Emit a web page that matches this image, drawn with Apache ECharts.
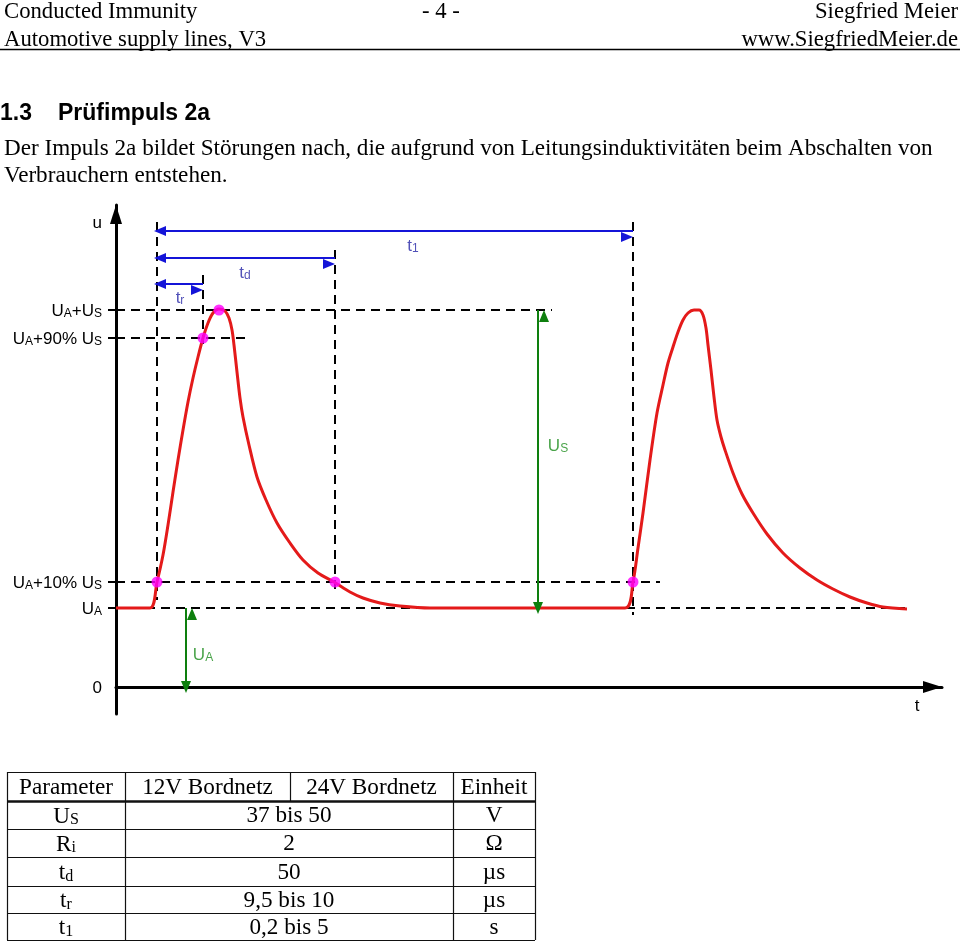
<!DOCTYPE html>
<html><head><meta charset="utf-8">
<script src="https://cdn.jsdelivr.net/npm/echarts@6/dist/echarts.min.js"></script>
<style>html,body{margin:0;padding:0;background:#fff}#c{width:960px;height:941px}</style>
</head><body><div id="c"></div>
<script>
// ---------- data (drawing units: t right of the u-axis, u above the 0 line) ----------
const pulseT = [0,34,41,47,52,57,62,67,72,77,82,87,92,97,103,109,113,116,118,121,
                124,127,133,141,150,161,174,187,202,218,234,247,264,284,314,
                509,517,522,527,534,541,547,552,557,562,567,572,578,583,587,590,592,595,598,601,
                605,609,617,626,637,651,667,684,701,717,734,751,767,791];
const pulseU = [79,79,105,132,162,195,227,257,285,309,330,349,364,374,378,376,369,357,342,315,
                289,270,242,210,187,164,144,127,114,105,95,89,84,81,79,
                79,105,139,174,227,274,302,324,340,355,367,374,377,377,372,359,342,317,290,267,
                250,237,214,193,174,153,134,119,107,98,90,84,80,78];

const levelNames = ['U_A', 'U_A+10% U_S', 'U_A+90% U_S', 'U_A+U_S'];
const levelU     = [79, 105, 349, 377];
const levelEndT  = [789, 544, 132, 436];

const guideT       = [41, 87, 219, 517];
const guideTopU    = [465, 412, 437, 465];
const guideBottomU = [87, 342, 97, 72];

const spanNames  = ['t_r', 't_d', 't_1'];
const spanStartT = [44, 44, 44];
const spanEndT   = [87, 219, 517];
const spanU      = [403, 429, 456];
const spanLabelT = [64, 129, 297];
const spanLabelU = [390, 415, 442];

const ampNames   = ['U_S', 'U_A'];
const ampT       = [422, 70];
const ampFromU   = [79, 0];
const ampToU     = [377, 79];
const ampLabelT  = [442, 87];
const ampLabelU  = [242, 33];

const markT = [41, 87, 103, 219, 517];
const markU = [105, 349, 377, 105, 105];

const uAxisName = 'u', uAxisNameAt = 465;
const tAxisName = 't', tAxisNameAt = 801;

const headerLeft  = ['Conducted Immunity', 'Automotive supply lines, V3'];
const headerRight = ['Siegfried Meier', 'www.SiegfriedMeier.de'];
const pageNo = '- 4 -';
const sectionNo = '1.3', sectionTitle = 'Prüfimpuls 2a';
const bodyLines = ['Der Impuls 2a bildet Störungen nach, die aufgrund von Leitungsinduktivitäten beim Abschalten von',
                   'Verbrauchern entstehen.'];

const tableHeader = ['Parameter', '12V Bordnetz', '24V Bordnetz', 'Einheit'];
const tableParams = ['U_S', 'R_i', 't_d', 't_r', 't_1'];
const tableValues = ['37 bis 50', '2', '50', '9,5 bis 10', '0,2 bis 5'];
const tableUnits  = ['V', 'Ω', 'µs', 'µs', 's'];

// ---------- helpers ----------
const SANS = 'Arial, "Liberation Sans", Helvetica, sans-serif';
const SERIF = '"Times New Roman", "Liberation Serif", serif';
function toRich(s) {
  let out = '', buf = '';
  for (let i = 0; i < s.length; i++) {
    if (s[i] === '_') {
      if (buf) out += '{m|' + buf + '}';
      buf = '';
      out += '{s|' + s[i + 1] + '}';
      i++;
    } else buf += s[i];
  }
  if (buf) out += '{m|' + buf + '}';
  return out;
}
function sansRich(color) {
  return {
    m: {fontFamily: SANS, fontSize: 17, color: color, lineHeight: 19, verticalAlign: 'bottom'},
    s: {fontFamily: SANS, fontSize: 12, color: color, lineHeight: 13, verticalAlign: 'bottom'}
  };
}
const serifRich = {
  m: {fontFamily: SERIF, fontSize: 23.2, fill: '#000', lineHeight: 24, verticalAlign: 'bottom'},
  s: {fontFamily: SERIF, fontSize: 16, fill: '#000', lineHeight: 14, verticalAlign: 'bottom'}
};
const yLabelValues = [0].concat(levelU, [uAxisNameAt]);
function yLabel(v) {
  if (v === 0) return '{m|0}';
  if (v === uAxisNameAt) return '{m|' + uAxisName + '}';
  const i = levelU.indexOf(v);
  return i >= 0 ? toRich(levelNames[i]) : '';
}

const BLUE = '#1414d8', BLUE_TXT = '#2626a6', GREEN = '#0e7f0e', GREEN_TXT = '#1c8c1c';
const DASH = {color: '#000', width: 2, type: [9, 6]};

const series = [];
levelU.forEach((u, i) => series.push({
  type: 'line', silent: true, symbol: 'none', z: 1,
  data: [[0, u], [levelEndT[i], u]], lineStyle: DASH
}));
guideT.forEach((t, i) => series.push({
  type: 'line', silent: true, symbol: 'none', z: 1,
  data: [[t, guideTopU[i]], [t, guideBottomU[i]]], lineStyle: DASH
}));

const arrowLines = [];
spanNames.forEach((n, i) => arrowLines.push([
  {coord: [spanStartT[i], spanU[i]], lineStyle: {color: BLUE, width: 2, type: 'solid'}, itemStyle: {color: BLUE}},
  {coord: [spanEndT[i], spanU[i]]}
]));
ampNames.forEach((n, i) => arrowLines.push([
  {coord: [ampT[i], ampFromU[i]], lineStyle: {color: GREEN, width: 2, type: 'solid'}, itemStyle: {color: GREEN}},
  {coord: [ampT[i], ampToU[i]]}
]));

series.push({
  type: 'line', name: 'pulse', silent: true, symbol: 'none', z: 3, smooth: 0.3,
  data: pulseT.map((t, i) => [t, pulseU[i]]),
  lineStyle: {color: '#e41a1a', width: 3, join: 'round'},
  markLine: {
    silent: true, animation: false, symbol: ['triangle', 'triangle'], symbolSize: [10, 12], symbolOffset: [0, 6],
    label: {show: false}, lineStyle: {type: 'solid', width: 2}, emphasis: {disabled: true},
    data: arrowLines
  }
});
series.push({
  type: 'scatter', silent: true, z: 5, symbolSize: 11,
  data: markT.map((t, i) => [t, markU[i]]),
  itemStyle: {color: '#ff00ff'}
});
const annos = [];
spanNames.forEach((n, i) => annos.push({name: n, value: [spanLabelT[i], spanLabelU[i]],
  label: {rich: sansRich(BLUE_TXT)}}));
ampNames.forEach((n, i) => annos.push({name: n, value: [ampLabelT[i], ampLabelU[i]],
  label: {rich: sansRich(GREEN_TXT)}}));
series.push({
  type: 'scatter', silent: true, z: 6, symbolSize: 1, itemStyle: {color: 'rgba(0,0,0,0)'},
  data: annos,
  label: {show: true, position: 'inside', formatter: p => toRich(p.name)}
});

// ---------- page graphics (header, text, table) ----------
const g = [];
function txt(x, y, s, o) {
  g.push({type: 'text', x: x, y: y, silent: true,
    style: Object.assign({text: s, fill: '#000', fontFamily: SERIF, fontSize: 22.7, align: 'left', verticalAlign: 'middle'}, o || {})});
}
headerLeft.forEach((s, i) => txt(4, 12 + i * 28, s));
headerRight.forEach((s, i) => txt(958, 12 + i * 28, s, {align: 'right'}));
txt(441, 12, pageNo, {align: 'center'});
g.push({type: 'line', silent: true, shape: {x1: 0, y1: 49.5, x2: 960, y2: 49.5}, style: {stroke: '#000', lineWidth: 1.5}});
txt(0, 114, sectionNo, {fontFamily: SANS, fontWeight: 'bold', fontSize: 23});
txt(58, 114, sectionTitle, {fontFamily: SANS, fontWeight: 'bold', fontSize: 23});
bodyLines.forEach((s, i) => txt(4, 149 + i * 27, s, {fontSize: 23.15}));

const colX = [7, 125, 290, 453, 535];
const rowY = [772, 801, 829, 857, 886, 913, 940];
rowY.forEach((y, i) => g.push({type: 'line', silent: true,
  shape: {x1: colX[0], y1: y + 0.5, x2: colX[4], y2: y + 0.5},
  style: {stroke: '#111', lineWidth: i === 1 ? 2.5 : 1.2}}));
[0, 1, 3, 4].forEach(c => g.push({type: 'line', silent: true,
  shape: {x1: colX[c] + 0.5, y1: rowY[0], x2: colX[c] + 0.5, y2: rowY[6]},
  style: {stroke: '#111', lineWidth: 1.2}}));
g.push({type: 'line', silent: true, shape: {x1: colX[2] + 0.5, y1: rowY[0], x2: colX[2] + 0.5, y2: rowY[1]},
  style: {stroke: '#111', lineWidth: 1.2}});
tableHeader.forEach((s, c) => txt((colX[c] + colX[c + 1]) / 2, (rowY[0] + rowY[1]) / 2 + 1, s, {align: 'center', fontSize: 23.2}));
tableParams.forEach((s, r) => {
  const yc = (rowY[r + 1] + rowY[r + 2]) / 2 + 1;
  g.push({type: 'text', x: (colX[0] + colX[1]) / 2, y: yc, silent: true,
    style: {text: toRich(s), rich: serifRich, align: 'center', verticalAlign: 'middle'}});
  txt((colX[1] + colX[3]) / 2, yc, tableValues[r], {align: 'center', fontSize: 23.2});
  txt((colX[3] + colX[4]) / 2, yc, tableUnits[r], {align: 'center', fontSize: 23.2});
});

const option = {
  animation: false,
  backgroundColor: '#fff',
  grid: {left: 116, right: 18, top: 205, bottom: 227},
  xAxis: {
    type: 'value', min: 0, max: 826, splitLine: {show: false},
    axisLine: {show: true, onZero: true, symbol: ['none', 'triangle'], symbolSize: [12, 19], symbolOffset: [0, -9.5],
      lineStyle: {color: '#000', width: 3}},
    axisTick: {show: false},
    axisLabel: {show: true, customValues: [tAxisNameAt], formatter: () => tAxisName, color: '#000',
      fontFamily: SANS, fontSize: 17, margin: -16}
  },
  yAxis: {
    type: 'value', min: -27, max: 482, splitLine: {show: false},
    axisLine: {show: true, onZero: false, symbol: ['none', 'triangle'], symbolSize: [12, 19], symbolOffset: [0, -9.5],
      lineStyle: {color: '#000', width: 3}},
    axisTick: {show: true, length: 8, customValues: levelU, lineStyle: {color: '#000', width: 2}},
    axisLabel: {show: true, customValues: yLabelValues, formatter: yLabel, rich: sansRich('#000'), margin: 14}
  },
  graphic: g,
  series: series
};
const chart = echarts.init(document.getElementById('c'), null, {renderer: 'canvas'});
chart.setOption(option);
</script></body></html>
